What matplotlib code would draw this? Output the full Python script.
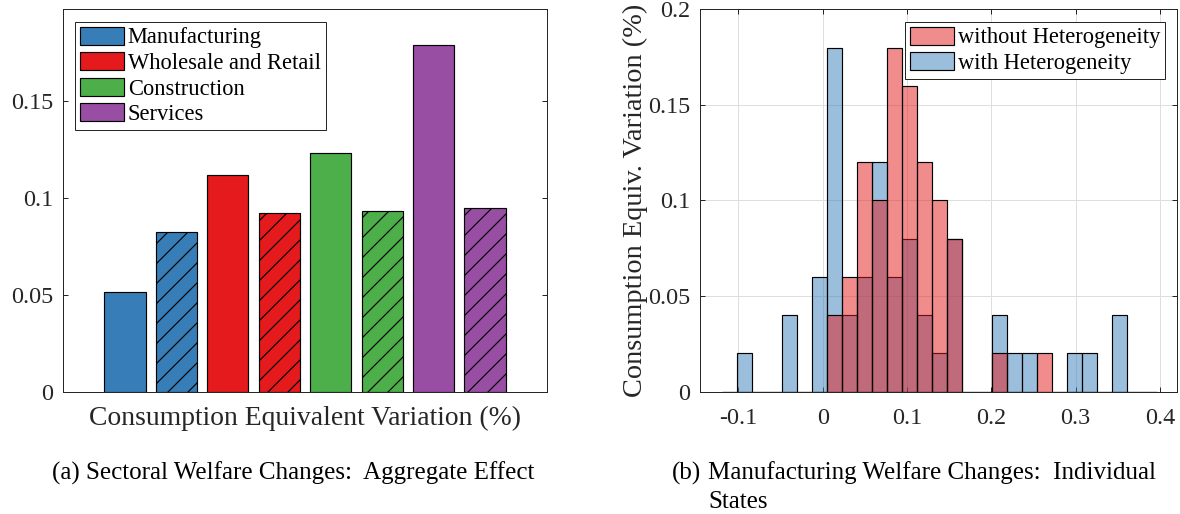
import numpy as np
import matplotlib
matplotlib.use("Agg")
import matplotlib.pyplot as plt
from matplotlib.patches import Patch

# ---- data -------------------------------------------------------------
sectors = ["Manufacturing", "Wholesale and Retail", "Construction", "Services"]
sector_colors = ["#377eb8", "#e41a1c", "#4daf4a", "#984ea3"]
# aggregate welfare change per sector: solid bar, hatched bar
sector_solid = [0.0512, 0.1116, 0.1232, 0.1787]
sector_hatched = [0.0822, 0.0923, 0.0932, 0.0944]

# histogram of state-level manufacturing welfare changes (share of states)
hist_start = -0.1198
hist_binwidth = 0.01779
with_het = [0, 0.02, 0, 0, 0.04, 0, 0.06, 0.18, 0.04, 0.06, 0.12, 0.06, 0.08,
            0.04, 0.02, 0.08, 0, 0, 0.04, 0.02, 0.02, 0, 0, 0.02, 0.02, 0,
            0.04, 0, 0]
without_het = [0, 0, 0, 0, 0, 0, 0, 0.04, 0.06, 0.12, 0.10, 0.18, 0.16, 0.12,
               0.10, 0.08, 0, 0, 0.02, 0, 0, 0.02, 0, 0, 0, 0, 0, 0, 0]

left_yticks = [0, 0.05, 0.1, 0.15]
left_yticklabels = ["0", "0.05", "0.1", "0.15"]
right_yticks = [0, 0.05, 0.1, 0.15, 0.2]
right_yticklabels = ["0", "0.05", "0.1", "0.15", "0.2"]
right_xticks = [-0.1, 0, 0.1, 0.2, 0.3, 0.4]
right_xticklabels = ["-0.1", "0", "0.1", "0.2", "0.3", "0.4"]

# ---- style ------------------------------------------------------------
W, H, DPI = 1180, 514, 120
plt.rcParams["font.family"] = ["Liberation Serif", "DejaVu Serif"]
plt.rcParams["hatch.linewidth"] = 0.7
TICK_FS = 14.5
LEG_FS = 13.5
AX_COLOR = (0.15, 0.15, 0.15)

fig = plt.figure(figsize=(W / DPI, H / DPI), dpi=DPI)


def px_axes(x0, y0, x1, y1):
    return fig.add_axes([x0 / W, 1 - y1 / H, (x1 - x0) / W, (y1 - y0) / H])


def style_axes(ax):
    for s in ax.spines.values():
        s.set_color(AX_COLOR)
        s.set_linewidth(0.6)
    ax.tick_params(direction="in", length=3, width=0.6, color=AX_COLOR,
                   labelcolor=AX_COLOR, labelsize=TICK_FS, pad=6,
                   top=True, right=True)
    ax.tick_params(axis="x", pad=10)


def add_legend(ax, handles, labels, loc, anchor_px):
    leg = ax.legend(handles, labels, loc=loc,
                    bbox_to_anchor=(anchor_px[0] / W, 1 - anchor_px[1] / H),
                    bbox_transform=fig.transFigure, borderaxespad=0,
                    fontsize=LEG_FS, fancybox=False, framealpha=1,
                    edgecolor=AX_COLOR, handlelength=1.95, handleheight=0.85,
                    handletextpad=0.18, borderpad=0.22, labelspacing=0.17)
    leg.get_frame().set_linewidth(0.6)
    return leg


# ---- (a) sector bars --------------------------------------------------
AX1 = (63.3, 9.3, 546.7, 391.7)
ax1 = px_axes(*AX1)
style_axes(ax1)
pos = np.arange(len(sectors) * 2)
for i, c in enumerate(sector_colors):
    ax1.bar(pos[2 * i], sector_solid[i], width=0.8, color=c,
            edgecolor="black", linewidth=0.7)
    ax1.bar(pos[2 * i + 1], sector_hatched[i], width=0.8, color=c,
            edgecolor="black", linewidth=0.7, hatch="//")
ax1.set_xlim(-1.2, 8.2)
ax1.set_ylim(0, 0.197)
ax1.set_yticks(left_yticks)
ax1.set_yticklabels(left_yticklabels)
ax1.set_xticks([])
ax1.set_xlabel("Consumption Equivalent Variation (%)", fontsize=16.6,
               color=AX_COLOR)
ax1.xaxis.label.set_va("baseline")
ax1.xaxis.set_label_coords(0.5, (AX1[3] - 425) / (AX1[3] - AX1[1]))
handles1 = [Patch(facecolor=c, edgecolor="black", linewidth=0.7)
            for c in sector_colors]
add_legend(ax1, handles1, sectors, "upper left", (75, 21.7))

# ---- (b) state histogram ----------------------------------------------
ax2 = px_axes(700, 9.3, 1176.7, 391.7)
style_axes(ax2)
lefts = hist_start + hist_binwidth * np.arange(len(with_het))
blue_face = (0.216, 0.494, 0.722, 0.5)
red_face = (0.894, 0.102, 0.110, 0.5)
ax2.bar(lefts, with_het, width=hist_binwidth, align="edge", color=blue_face,
        edgecolor="black", linewidth=0.7, zorder=2)
ax2.bar(lefts, without_het, width=hist_binwidth, align="edge", color=red_face,
        edgecolor="black", linewidth=0.7, zorder=2)
for x in right_xticks:
    ax2.axvline(x, color=(0.87, 0.87, 0.87), linewidth=0.6, zorder=0.5)
for y in right_yticks:
    ax2.axhline(y, color=(0.87, 0.87, 0.87), linewidth=0.6, zorder=0.5)
ax2.set_xlim(-0.1455, 0.4198)
ax2.set_ylim(0, 0.2)
ax2.set_xticks(right_xticks)
ax2.set_xticklabels(right_xticklabels)
ax2.set_yticks(right_yticks)
ax2.set_yticklabels(right_yticklabels)
ax2.set_ylabel("Consumption Equiv. Variation (%)", fontsize=17,
               color=AX_COLOR, labelpad=0)
handles2 = [Patch(facecolor=red_face, edgecolor="black", linewidth=0.7),
            Patch(facecolor=blue_face, edgecolor="black", linewidth=0.7)]
add_legend(ax2, handles2, ["without Heterogeneity", "with Heterogeneity"],
           "upper right", (1165, 21.7))

# ---- captions ---------------------------------------------------------
CFS = 15
fig.text(293 / W, 1 - 479.3 / H,
         "(a) Sectoral Welfare Changes:  Aggregate Effect",
         ha="center", va="baseline", fontsize=CFS)
fig.text(671.7 / W, 1 - 479.3 / H, "(b)", ha="left", va="baseline",
         fontsize=CFS)
fig.text(708.3 / W, 1 - 479.3 / H,
         "Manufacturing Welfare Changes:  Individual",
         ha="left", va="baseline", fontsize=CFS)
fig.text(708.3 / W, 1 - 508.3 / H, "States", ha="left", va="baseline",
         fontsize=CFS)

fig.savefig("out.png", dpi=DPI)
